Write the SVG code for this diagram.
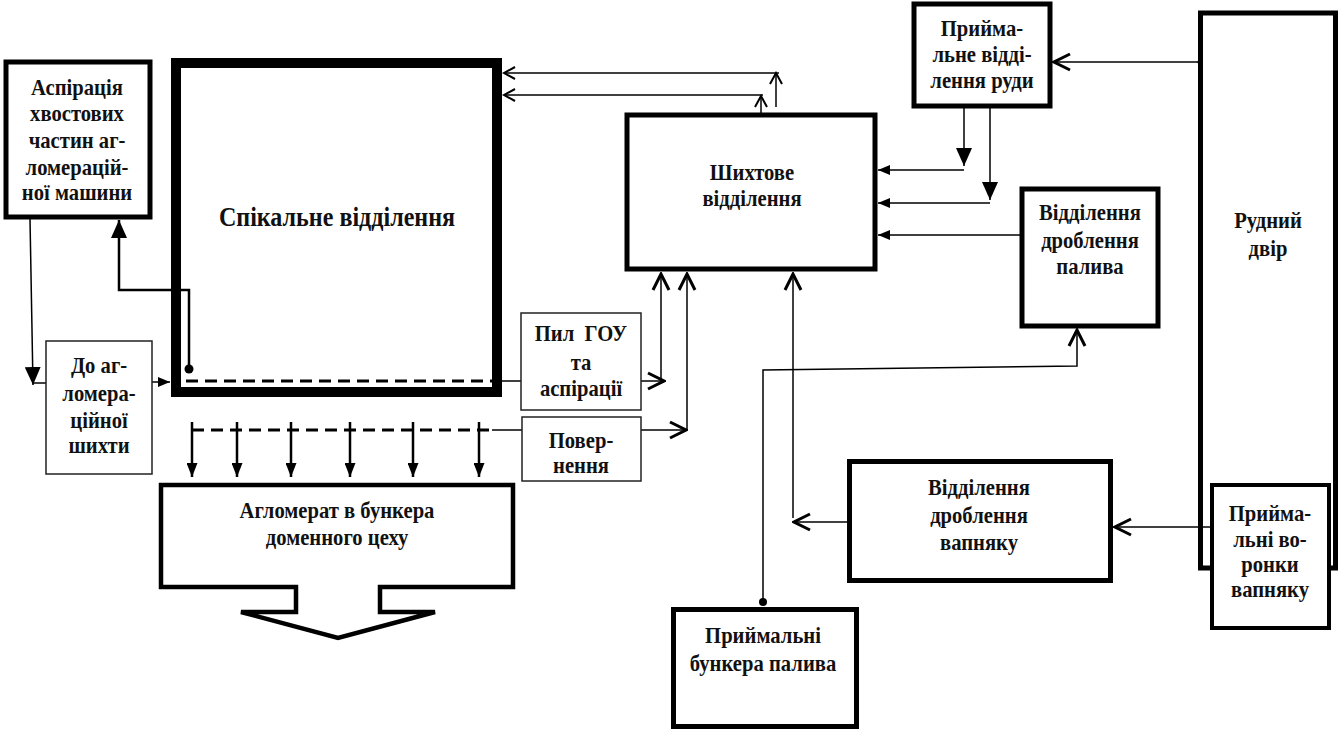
<svg xmlns="http://www.w3.org/2000/svg" width="1339" height="731" viewBox="0 0 1339 731">
<style>
.t{font-family:"Liberation Serif","DejaVu Serif",serif;font-weight:bold;font-size:24px;text-anchor:middle;fill:#111}
.big{font-size:28px}
.box{fill:#fff;stroke:#000;stroke-width:5}
.thin{fill:#fff;stroke:#222;stroke-width:1.5}
.ln{fill:none;stroke:#000;stroke-width:1.5}
.lnb{fill:none;stroke:#000;stroke-width:2.5}
.dash{fill:none;stroke:#000;stroke-width:3;stroke-dasharray:12 7}
</style>
<defs>
<marker id="chevL" markerUnits="userSpaceOnUse" markerWidth="22" markerHeight="22" viewBox="0 0 22 22" refX="20" refY="11" orient="auto"><path d="M4,3 L20,11 L4,19" fill="none" stroke="#000" stroke-width="3"/></marker>
<marker id="chevS" markerUnits="userSpaceOnUse" markerWidth="16" markerHeight="16" viewBox="0 0 16 16" refX="14" refY="8" orient="auto"><path d="M3,2 L14,8 L3,14" fill="none" stroke="#000" stroke-width="2"/></marker>
<marker id="tri" markerUnits="userSpaceOnUse" markerWidth="12" markerHeight="10" viewBox="0 0 12 10" refX="12" refY="5" orient="auto"><path d="M0,0 L12,5 L0,10 z" fill="#000"/></marker>
<marker id="triL" markerUnits="userSpaceOnUse" markerWidth="18" markerHeight="16" viewBox="0 0 18 16" refX="18" refY="8" orient="auto"><path d="M0,0 L18,8 L0,16 z" fill="#000"/></marker>
<marker id="triD" markerUnits="userSpaceOnUse" markerWidth="14" markerHeight="11" viewBox="0 0 14 11" refX="14" refY="5.5" orient="auto"><path d="M0,0 L14,5.5 L0,11 z" fill="#000"/></marker>
</defs>

<g id="rudnyi-dvir">
<rect class="box" x="1200.5" y="13" width="135" height="555"/>
<text class="t" transform="translate(1268,228) scale(0.86,1)">Рудний</text>
<text class="t" transform="translate(1268,256) scale(0.86,1)">двір</text>
</g>

<g id="connectors">
<path class="ln" d="M30,219 L33,385" marker-end="url(#triL)"/>
<path class="ln" d="M33,383 H46"/>
<path class="ln" d="M152,382 H170" marker-end="url(#tri)"/>
<path class="lnb" d="M189,369 V290 H119 V220" marker-end="url(#triL)"/>
<circle cx="189" cy="369" r="4.5" fill="#000"/>
<path class="dash" d="M186,381 H500"/>
<path class="ln" d="M502,381 H521"/>
<path class="ln" d="M641,381 H664" marker-end="url(#chevL)"/>
<path class="ln" d="M661,381 V274" marker-end="url(#chevL)"/>
<path class="dash" d="M192,430 H492"/>
<path class="ln" d="M492,430 H522" stroke="#555"/>
<path class="ln" d="M641,430 H686" marker-end="url(#chevL)"/>
<path class="ln" d="M687,430 V274" marker-end="url(#chevL)"/>
<path class="lnb" d="M192,422 V477" marker-end="url(#triD)"/>
<path class="lnb" d="M237,422 V477" marker-end="url(#triD)"/>
<path class="lnb" d="M291,422 V477" marker-end="url(#triD)"/>
<path class="lnb" d="M350,422 V477" marker-end="url(#triD)"/>
<path class="lnb" d="M413,422 V477" marker-end="url(#triD)"/>
<path class="lnb" d="M479,422 V477" marker-end="url(#triD)"/>
<path class="ln" d="M776,107 V73" marker-end="url(#chevS)"/>
<path class="ln" d="M779,73 H504" marker-end="url(#chevS)"/>
<path class="ln" d="M761,113 V96" marker-end="url(#chevS)"/>
<path class="ln" d="M763,95 H504" marker-end="url(#chevS)"/>
<path class="ln" d="M1200,62 H1054" marker-end="url(#chevL)"/>
<circle cx="1200" cy="62" r="2.5" fill="#000"/>
<path class="ln" d="M964,108 V166" marker-end="url(#triL)"/>
<path class="ln" d="M964,170 H878" marker-end="url(#tri)"/>
<path class="ln" d="M990,108 V200" marker-end="url(#triL)"/>
<path class="ln" d="M990,203 H878" marker-end="url(#tri)"/>
<path class="ln" d="M1020,235 H878" marker-end="url(#tri)"/>
<path class="ln" d="M763,601 V370 L1077,366 V330" marker-end="url(#chevL)"/>
<circle cx="763" cy="602" r="4" fill="#000"/>
<path class="ln" d="M852,522 H794" marker-end="url(#chevL)"/>
<circle cx="852" cy="522" r="4" fill="#000"/>
<path class="ln" d="M793,518 V274" marker-end="url(#chevL)"/>
<path class="ln" d="M1210,527 H1115" marker-end="url(#chevL)"/>
</g>

<g id="aspiratsiia">
<rect class="box" x="6" y="62" width="144" height="155"/>
<text class="t" transform="translate(77,95) scale(0.86,1)">Аспірація</text>
<text class="t" transform="translate(77,121) scale(0.86,1)">хвостових</text>
<text class="t" transform="translate(77,148) scale(0.86,1)">частин аг-</text>
<text class="t" transform="translate(77,175) scale(0.86,1)">ломерацій-</text>
<text class="t" transform="translate(77,200) scale(0.86,1)">ної машини</text>
</g>

<g id="spikalne">
<rect x="176" y="63" width="321" height="329" fill="none" stroke="#000" stroke-width="10"/>
<text class="t big" transform="translate(337,226) scale(0.86,1)">Спікальне відділення</text>
</g>

<g id="do-aglomeratsiinoi">
<rect class="thin" x="46" y="341" width="106" height="133"/>
<text class="t" transform="translate(99,373) scale(0.86,1)">До аг-</text>
<text class="t" transform="translate(99,401) scale(0.86,1)">ломера-</text>
<text class="t" transform="translate(99,428) scale(0.86,1)">ційної</text>
<text class="t" transform="translate(99,453) scale(0.86,1)">шихти</text>
</g>

<g id="pyl-gou">
<rect class="thin" x="521" y="313" width="120" height="97"/>
<text class="t" transform="translate(581,341) scale(0.86,1)" xml:space="preserve">Пил  ГОУ</text>
<text class="t" transform="translate(581,370) scale(0.86,1)">та</text>
<text class="t" transform="translate(581,396) scale(0.86,1)">аспірації</text>
</g>

<g id="povernennia">
<rect class="thin" x="522" y="417" width="119" height="64"/>
<text class="t" transform="translate(581,448) scale(0.86,1)">Повер-</text>
<text class="t" transform="translate(581,473) scale(0.86,1)">нення</text>
</g>

<g id="aglomerat">
<path d="M161,485 H513 V587 H380 V612 H435 L338,638 L241,612 H296 V587 H161 Z" fill="#fff" stroke="#000" stroke-width="4.5" stroke-linejoin="miter"/>
<text class="t" transform="translate(337,518) scale(0.86,1)">Агломерат в бункера</text>
<text class="t" transform="translate(337,545) scale(0.86,1)">доменного цеху</text>
</g>

<g id="shykhtove">
<rect class="box" x="627" y="115" width="248" height="154"/>
<text class="t" transform="translate(752,180) scale(0.86,1)">Шихтове</text>
<text class="t" transform="translate(752,206) scale(0.86,1)">відділення</text>
</g>

<g id="pryimalne-rudy">
<rect class="box" x="914" y="4" width="136" height="102"/>
<text class="t" transform="translate(982,36) scale(0.86,1)">Прийма-</text>
<text class="t" transform="translate(982,62) scale(0.86,1)">льне відді-</text>
<text class="t" transform="translate(982,88) scale(0.86,1)">лення руди</text>
</g>

<g id="drobl-palyva">
<rect class="box" x="1022" y="189" width="136" height="137"/>
<text class="t" transform="translate(1090,220) scale(0.86,1)">Відділення</text>
<text class="t" transform="translate(1090,248) scale(0.86,1)">дроблення</text>
<text class="t" transform="translate(1090,274) scale(0.86,1)">палива</text>
</g>

<g id="drobl-vapniaku">
<rect class="box" x="849.5" y="461.5" width="261" height="119"/>
<text class="t" transform="translate(979,495) scale(0.86,1)">Відділення</text>
<text class="t" transform="translate(979,523) scale(0.86,1)">дроблення</text>
<text class="t" transform="translate(979,550) scale(0.86,1)">вапняку</text>
</g>

<g id="voronky">
<rect class="box" x="1212" y="485" width="117" height="143" style="stroke-width:4"/>
<text class="t" transform="translate(1270,521) scale(0.86,1)">Прийма-</text>
<text class="t" transform="translate(1270,547) scale(0.86,1)">льні во-</text>
<text class="t" transform="translate(1270,572) scale(0.86,1)">ронки</text>
<text class="t" transform="translate(1270,597) scale(0.86,1)">вапняку</text>
</g>

<g id="bunkera-palyva">
<rect class="box" x="673.5" y="609.5" width="183" height="117"/>
<text class="t" transform="translate(763,643) scale(0.86,1)">Приймальні</text>
<text class="t" transform="translate(763,671) scale(0.86,1)">бункера палива</text>
</g>
</svg>
